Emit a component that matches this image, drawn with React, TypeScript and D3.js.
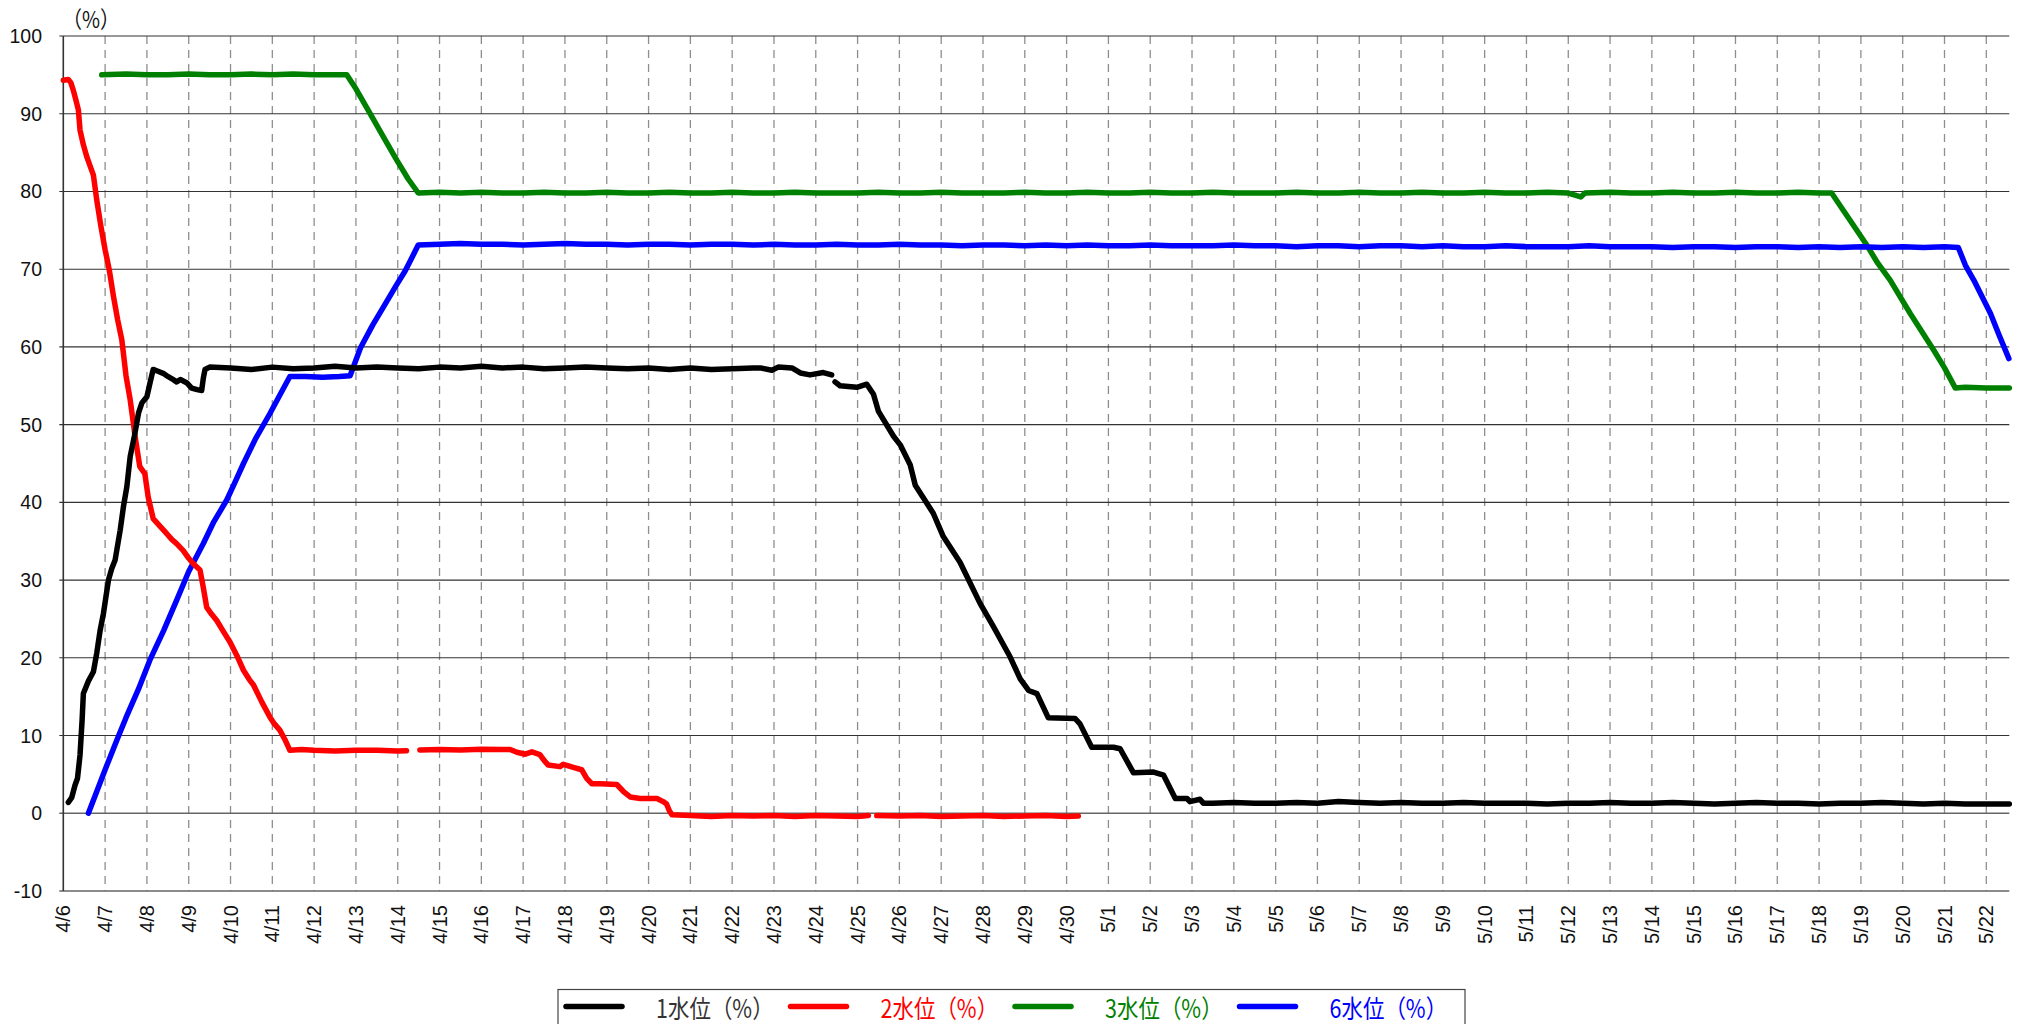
import React from "react";
import * as d3 from "d3";

// x values are days counted from 4/6 00:00, null = gap in the record
type Pt = [number, number | null];

const dayLabels = [
  "4/6", "4/7", "4/8", "4/9", "4/10", "4/11", "4/12", "4/13", "4/14", "4/15",
  "4/16", "4/17", "4/18", "4/19", "4/20", "4/21", "4/22", "4/23", "4/24", "4/25",
  "4/26", "4/27", "4/28", "4/29", "4/30", "5/1", "5/2", "5/3", "5/4", "5/5",
  "5/6", "5/7", "5/8", "5/9", "5/10", "5/11", "5/12", "5/13", "5/14", "5/15",
  "5/16", "5/17", "5/18", "5/19", "5/20", "5/21", "5/22",
];
const yTicks = [-10, 0, 10, 20, 30, 40, 50, 60, 70, 80, 90, 100];

const level1: Pt[] = [
  [0.12, 1.4], [0.2, 2.0], [0.28, 3.6], [0.34, 4.5], [0.4, 7.5], [0.45, 12], [0.48, 15.4],
  [0.6, 17], [0.72, 18.2], [0.8, 20.6], [0.88, 23.5], [0.96, 25.7], [1.08, 30], [1.16, 31.5],
  [1.24, 32.6], [1.36, 36.4], [1.44, 39.5], [1.52, 42], [1.6, 45.9], [1.7, 48.5], [1.8, 51.5],
  [1.88, 52.8], [2.0, 53.6], [2.08, 55.5], [2.15, 57.1], [2.25, 56.9], [2.39, 56.6], [2.5, 56.2],
  [2.6, 55.9], [2.71, 55.5], [2.8, 55.8], [2.95, 55.4], [3.07, 54.7], [3.2, 54.5], [3.31, 54.4],
  [3.35, 56], [3.39, 57.1], [3.5, 57.4], [4, 57.3], [4.5, 57.1], [5, 57.4], [5.5, 57.2],
  [6, 57.3], [6.5, 57.5], [7, 57.3], [7.5, 57.4], [8, 57.3], [8.5, 57.2], [9, 57.4], [9.5, 57.3],
  [10, 57.5], [10.5, 57.3], [11, 57.4], [11.5, 57.2], [12, 57.3], [12.5, 57.4], [13, 57.3],
  [13.5, 57.2], [14, 57.3], [14.5, 57.1], [15, 57.3], [15.5, 57.1], [16, 57.2], [16.5, 57.3],
  [16.67, 57.3], [16.95, 57.0], [17.1, 57.4], [17.43, 57.3], [17.63, 56.65], [17.86, 56.4],
  [18.18, 56.7], [18.38, 56.4], [18.42, null],
  [18.46, 55.5], [18.58, 55.0], [18.98, 54.8], [19.22, 55.2], [19.38, 53.9], [19.5, 51.7],
  [19.86, 48.5], [20.02, 47.4], [20.26, 44.8], [20.38, 42.2], [20.81, 38.6], [21.05, 35.6],
  [21.45, 32.3], [21.93, 27.0], [22.25, 24.0], [22.65, 20.1], [22.89, 17.3], [23.09, 15.8],
  [23.29, 15.4], [23.56, 12.3], [24.2, 12.2], [24.32, 11.5], [24.6, 8.5], [25.12, 8.5],
  [25.28, 8.3], [25.6, 5.2], [26.08, 5.3], [26.32, 4.9], [26.6, 1.9], [26.88, 1.9], [26.95, 1.5],
  [27.19, 1.8], [27.27, 1.3], [27.5, 1.3], [28, 1.4], [28.5, 1.3], [29, 1.3], [29.5, 1.4],
  [30, 1.3], [30.5, 1.5], [31, 1.4], [31.5, 1.3], [32, 1.4], [32.5, 1.3], [33, 1.3], [33.5, 1.4],
  [34, 1.3], [34.5, 1.3], [35, 1.3], [35.5, 1.2], [36, 1.3], [36.5, 1.3], [37, 1.4], [37.5, 1.3],
  [38, 1.3], [38.5, 1.4], [39, 1.3], [39.5, 1.2], [40, 1.3], [40.5, 1.4], [41, 1.3], [41.5, 1.3],
  [42, 1.2], [42.5, 1.3], [43, 1.3], [43.5, 1.4], [44, 1.3], [44.5, 1.2], [45, 1.3], [45.5, 1.2],
  [46, 1.2], [46.55, 1.2],
];

const level2: Pt[] = [
  [0, 94.3], [0.12, 94.4], [0.18, 94.0], [0.24, 93.0], [0.3, 91.8], [0.36, 90.5], [0.4, 87.9],
  [0.48, 86], [0.56, 84.5], [0.64, 83.3], [0.72, 82.1], [0.8, 78.9], [0.9, 75.5], [1.0, 72.5],
  [1.1, 69.9], [1.2, 66.5], [1.3, 63.5], [1.4, 60.9], [1.5, 56.3], [1.6, 53.2], [1.72, 48.4],
  [1.83, 44.6], [1.95, 43.7], [2.03, 40.7], [2.15, 37.9], [2.3, 37.0], [2.47, 36.0], [2.6, 35.2],
  [2.71, 34.7], [2.87, 33.8], [3.0, 32.8], [3.11, 32.1], [3.27, 31.3], [3.35, 29], [3.43, 26.5],
  [3.55, 25.6], [3.67, 24.8], [3.85, 23.2], [3.99, 22.0], [4.15, 20.3], [4.31, 18.4], [4.45, 17.2],
  [4.55, 16.5], [4.75, 14.3], [4.94, 12.4], [5.05, 11.5], [5.18, 10.7], [5.3, 9.5], [5.42, 8.1],
  [5.7, 8.2], [6, 8.1], [6.5, 8.0], [7, 8.1], [7.5, 8.1], [8, 8.0], [8.21, 8.05], [8.35, null],
  [8.53, 8.15], [9, 8.2], [9.5, 8.15], [10, 8.25], [10.5, 8.2], [10.69, 8.2], [10.85, 7.85],
  [11.05, 7.6], [11.21, 7.9], [11.4, 7.55], [11.5, 6.8], [11.6, 6.2], [11.88, 6.0], [11.96, 6.3],
  [12.2, 5.9], [12.4, 5.6], [12.52, 4.5], [12.64, 3.8], [12.84, 3.8], [13.24, 3.7], [13.4, 2.8],
  [13.56, 2.1], [13.8, 1.9], [14.2, 1.9], [14.35, 1.5], [14.43, 1.2], [14.5, 0.3], [14.56, -0.2],
  [15, -0.3], [15.5, -0.4], [16, -0.3], [16.5, -0.35], [17, -0.3], [17.5, -0.4], [18, -0.3],
  [18.5, -0.35], [19, -0.4], [19.26, -0.3], [19.36, null],
  [19.46, -0.3], [20, -0.35], [20.5, -0.3], [21, -0.4], [21.5, -0.35], [22, -0.3], [22.5, -0.4],
  [23, -0.35], [23.5, -0.3], [24, -0.4], [24.28, -0.35],
];

const level3: Pt[] = [
  [0.92, 95.0], [1.5, 95.1], [2, 95.0], [2.5, 95.0], [3, 95.1], [3.5, 95.0], [4, 95.0],
  [4.5, 95.1], [5, 95.0], [5.5, 95.1], [6, 95.0], [6.5, 95.0], [6.78, 95.0], [7.0, 93.2],
  [7.34, 90.0], [7.66, 87.0], [7.98, 84.0], [8.25, 81.6], [8.49, 79.8], [9, 79.9], [9.5, 79.8],
  [10, 79.9], [10.5, 79.8], [11, 79.8], [11.5, 79.9], [12, 79.8], [12.5, 79.8], [13, 79.9],
  [13.5, 79.8], [14, 79.8], [14.5, 79.9], [15, 79.8], [15.5, 79.8], [16, 79.9], [16.5, 79.8],
  [17, 79.8], [17.5, 79.9], [18, 79.8], [18.5, 79.8], [19, 79.8], [19.5, 79.9], [20, 79.8],
  [20.5, 79.8], [21, 79.9], [21.5, 79.8], [22, 79.8], [22.5, 79.8], [23, 79.9], [23.5, 79.8],
  [24, 79.8], [24.5, 79.9], [25, 79.8], [25.5, 79.8], [26, 79.9], [26.5, 79.8], [27, 79.8],
  [27.5, 79.9], [28, 79.8], [28.5, 79.8], [29, 79.8], [29.5, 79.9], [30, 79.8], [30.5, 79.8],
  [31, 79.9], [31.5, 79.8], [32, 79.8], [32.5, 79.9], [33, 79.8], [33.5, 79.8], [34, 79.9],
  [34.5, 79.8], [35, 79.8], [35.5, 79.9], [36, 79.8], [36.3, 79.3], [36.4, 79.8], [37, 79.9],
  [37.5, 79.8], [38, 79.8], [38.5, 79.9], [39, 79.8], [39.5, 79.8], [40, 79.9], [40.5, 79.8],
  [41, 79.8], [41.5, 79.9], [42, 79.8], [42.3, 79.8], [42.5, 78.2], [42.74, 76.3], [43.14, 73.1],
  [43.4, 70.8], [43.7, 68.6], [44.18, 64.3], [44.74, 59.6], [45.0, 57.3], [45.26, 54.7],
  [45.5, 54.8], [46, 54.7], [46.55, 54.7],
];

const level6: Pt[] = [
  [0.6, 0], [0.8, 2.8], [1.0, 5.6], [1.28, 9.4], [1.5, 12.3], [1.8, 16], [2.07, 19.7], [2.4, 23.5],
  [2.71, 27.4], [3.0, 31.1], [3.35, 34.7], [3.6, 37.5], [3.91, 40.3], [4.1, 42.5], [4.31, 45.0],
  [4.6, 48.2], [4.94, 51.4], [5.2, 54], [5.42, 56.2], [5.8, 56.2], [6.2, 56.1], [6.6, 56.2],
  [6.86, 56.3], [7.11, 59.9], [7.4, 62.8], [7.72, 65.7], [7.95, 67.8], [8.18, 69.8], [8.35, 71.6],
  [8.49, 73.1], [9, 73.2], [9.5, 73.3], [10, 73.2], [10.5, 73.2], [11, 73.1], [11.5, 73.2],
  [12, 73.3], [12.5, 73.2], [13, 73.2], [13.5, 73.1], [14, 73.2], [14.5, 73.2], [15, 73.1],
  [15.5, 73.2], [16, 73.2], [16.5, 73.1], [17, 73.2], [17.5, 73.1], [18, 73.1], [18.5, 73.2],
  [19, 73.1], [19.5, 73.1], [20, 73.2], [20.5, 73.1], [21, 73.1], [21.5, 73.0], [22, 73.1],
  [22.5, 73.1], [23, 73.0], [23.5, 73.1], [24, 73.0], [24.5, 73.1], [25, 73.0], [25.5, 73.0],
  [26, 73.1], [26.5, 73.0], [27, 73.0], [27.5, 73.0], [28, 73.1], [28.5, 73.0], [29, 73.0],
  [29.5, 72.9], [30, 73.0], [30.5, 73.0], [31, 72.9], [31.5, 73.0], [32, 73.0], [32.5, 72.9],
  [33, 73.0], [33.5, 72.9], [34, 72.9], [34.5, 73.0], [35, 72.9], [35.5, 72.9], [36, 72.9],
  [36.5, 73.0], [37, 72.9], [37.5, 72.9], [38, 72.9], [38.5, 72.8], [39, 72.9], [39.5, 72.9],
  [40, 72.8], [40.5, 72.9], [41, 72.9], [41.5, 72.8], [42, 72.9], [42.5, 72.8], [43, 72.9],
  [43.5, 72.8], [44, 72.9], [44.5, 72.8], [45, 72.9], [45.33, 72.8], [45.5, 70.5], [45.7, 68.6],
  [46.1, 64.3], [46.3, 61.6], [46.54, 58.5],
];

const seriesNames = ["1水位（%）", "2水位（%）", "3水位（%）", "6水位（%）"];
const seriesColors = ["#000000", "#ff0000", "#008000", "#0000ff"];
const legendTextColors = ["#333333", "#ff0000", "#008000", "#0000ff"];
const seriesData = [level1, level2, level3, level6];
// drawn back to front like the original
const drawOrder = [2, 3, 1, 0];

const W = 2018;
const H = 1024;
const FONT = "'Liberation Sans', Arial, 'Noto Sans CJK JP', sans-serif";
const CJK = "'Noto Sans CJK JP', 'Liberation Sans', sans-serif";

const App = () => {
  const x = d3.scaleLinear().domain([0, 46.55]).range([63.3, 2009.3]);
  const y = d3.scaleLinear().domain([-10, 100]).range([891, 36]);
  const line = d3
    .line<Pt>()
    .defined(d => d[1] !== null)
    .x(d => x(d[0]))
    .y(d => y(d[1] as number));

  const [x0, x1] = x.range();
  const [yBot, yTop] = y.range();

  return (
    <svg
      width={W}
      height={H}
      style={{ position: "fixed", left: 0, top: 0, background: "#fff", display: "block" }}
    >
      {/* vertical dashed day lines */}
      {dayLabels.map((lab, i) =>
        i === 0 ? null : (
          <line
            key={"v" + lab}
            x1={x(i)}
            x2={x(i)}
            y1={yTop}
            y2={yBot}
            stroke="#8e8e8e"
            strokeWidth={1.3}
            strokeDasharray="8,6"
          />
        )
      )}
      {/* horizontal grid */}
      {yTicks.map(t => (
        <line
          key={"h" + t}
          x1={x0 - 4}
          x2={x1}
          y1={y(t)}
          y2={y(t)}
          stroke={t === 0 || t === -10 ? "#666" : "#333"}
          strokeWidth={t === 0 || t === -10 ? 1.6 : 1.1}
        />
      ))}
      <line x1={x0} x2={x0} y1={yTop} y2={yBot} stroke="#333" strokeWidth={1.6} />

      {yTicks.map(t => (
        <text
          key={"yl" + t}
          x={42}
          y={y(t)}
          textAnchor="end"
          dominantBaseline="central"
          fontFamily={FONT}
          fontSize={19.5}
          fill="#111"
        >
          {t}
        </text>
      ))}
      <text
        transform="translate(91,18) scale(0.85,1)"
        textAnchor="middle"
        dominantBaseline="central"
        fontFamily={CJK}
        fontSize={23}
        fill="#111"
      >
        （%）
      </text>

      {dayLabels.map((lab, i) => (
        <text
          key={"xl" + lab}
          transform={`translate(${x(i)},${905}) rotate(-90)`}
          textAnchor="end"
          dominantBaseline="central"
          fontFamily={FONT}
          fontSize={20}
          fill="#111"
        >
          {lab}
        </text>
      ))}

      {drawOrder.map(i => (
        <path
          key={"s" + i}
          d={line(seriesData[i]) || ""}
          fill="none"
          stroke={seriesColors[i]}
          strokeWidth={5.5}
          strokeLinejoin="round"
          strokeLinecap="round"
        />
      ))}

      {/* legend */}
      <rect x={558} y={989.5} width={907} height={60} fill="#fff" stroke="#444" strokeWidth={1.2} />
      {seriesNames.map((name, i) => {
        const lx = 566 + i * 224.5;
        return (
          <g key={"lg" + i}>
            <line
              x1={lx}
              x2={lx + 56}
              y1={1006.5}
              y2={1006.5}
              stroke={seriesColors[i]}
              strokeWidth={5.5}
              strokeLinecap="round"
            />
            <text
              transform={`translate(${lx + 90},1007) scale(0.86,1)`}
              dominantBaseline="central"
              fontFamily={CJK}
              fontSize={25}
              fill={legendTextColors[i]}
            >
              {name}
            </text>
          </g>
        );
      })}
    </svg>
  );
};

export default App;
